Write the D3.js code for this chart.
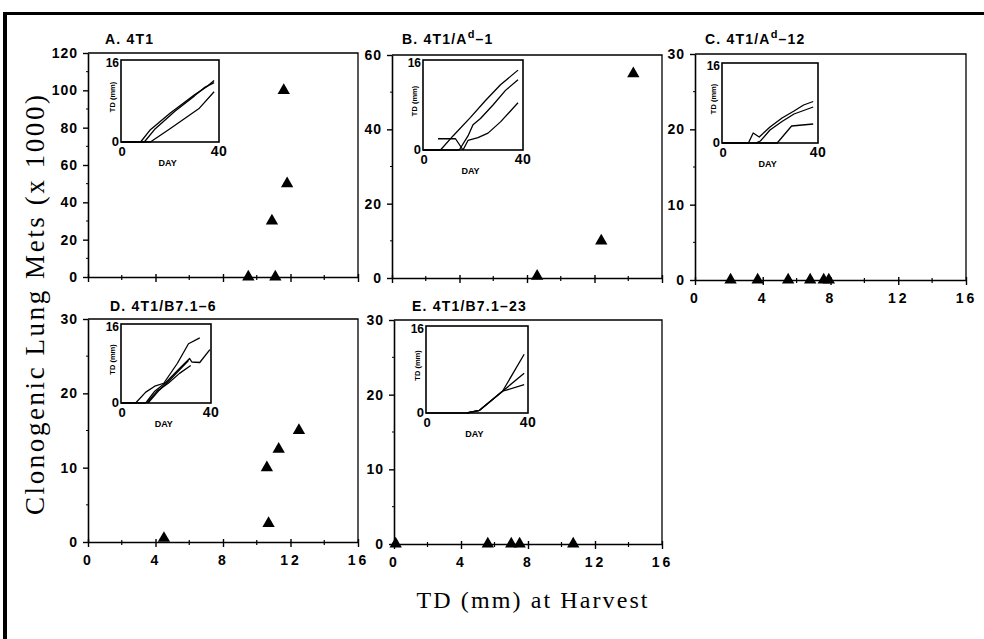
<!DOCTYPE html>
<html>
<head>
<meta charset="utf-8">
<script src="https://cdn.jsdelivr.net/npm/d3@7"></script>
<style>
  body { margin: 0; background: #fff; }
  svg { display: block; }
  .tick-lbl { font-family: "Liberation Sans", Arial, sans-serif; font-weight: bold; }
  .ttl { font-family: "Liberation Sans", Arial, sans-serif; font-size: 14px; font-weight: bold; letter-spacing: 1.2px; }
  .serif { font-family: "Liberation Serif", "Times New Roman", serif; }
</style>
</head>
<body>
<div id="chart"></div>
<script>
// ---- data ----
const panelTitles = ["A. 4T1", "B. 4T1/A^d–1", "C. 4T1/A^d–12", "D. 4T1/B7.1–6", "E. 4T1/B7.1–23"];
const yMaxes = [120, 60, 30, 30, 30];
const yMajorSteps = [20, 20, 10, 10, 10];
const xTickValues = [0, 4, 8, 12, 16];
const xMinorValues = [2, 6, 10, 14];
const showXLabels = [false, false, true, true, true];

// TD (mm) at harvest vs clonogenic lung mets (x1000)
const tdA = [9.5, 11.1, 10.9, 11.6, 11.8];
const metsA = [0, 0, 30, 100, 50];
const tdB = [8.6, 12.4, 14.3];
const metsB = [0.5, 10, 55];
const tdC = [2.1, 3.7, 5.5, 6.8, 7.6, 7.9];
const metsC = [0, 0, 0, 0, 0, 0];
const tdD = [4.5, 10.6, 10.7, 11.3, 12.5];
const metsD = [0.5, 10, 2.5, 12.5, 15];
const tdE = [0.1, 5.6, 7.0, 7.5, 10.7];
const metsE = [0, 0, 0, 0, 0];

// inset growth curves: [day, TD mm]
const growthA = [
  [[0, 0], [8, 0], [12, 2.4], [20, 5.6], [30, 9.2], [35, 10.8], [38, 12]],
  [[0, 0], [9.5, 0], [14, 2.6], [22, 6], [30, 9], [34, 10.6], [38, 11.6]],
  [[0, 0], [12, 0], [20, 2.6], [26, 4.6], [32, 6.6], [38, 9.8]]
];
const growthB = [
  [[0, 0], [7, 0], [12, 2.5], [19, 5.8], [25, 8.8], [31, 11.6], [38, 14.2]],
  [[6, 2], [13, 2], [16, 0]],
  [[0, 0], [14.5, 0], [18, 2.5], [20, 4.5], [23, 5.6], [28, 8], [33, 10.6], [38, 12.5]],
  [[16, 0], [18, 1.7], [22, 2.2], [26, 3], [31, 5], [38, 8.4]]
];
const growthC = [
  [[0, 0], [11, 0], [13, 2], [15.5, 1.2], [20, 3.2], [25, 5], [30, 6.4], [34, 7.6], [38, 8.3]],
  [[14, 0], [16, 0.4], [20, 2.6], [25, 4.3], [30, 5.8], [38, 7.2]],
  [[0, 0], [23, 0], [29, 3.4], [38, 3.8]]
];
const growthD = [
  [[0, 0], [6.5, 0], [11, 2.2], [15, 3.4], [19, 4], [25, 8], [30, 12], [35, 13.2]],
  [[0, 0], [11, 0], [15, 2.4], [20, 4.2], [26, 7], [30.5, 9], [31.5, 8.3], [35, 8.2], [39.5, 10.8]],
  [[11.5, 0], [16, 2.4], [21, 4], [26, 6], [31, 7.6]],
  [[12, 0], [17, 2.6], [22, 4.8], [27, 7.2], [30, 8.6]]
];
const growthE = [
  [[0, 0], [16, 0], [21, 0.5], [30, 4], [38.5, 10.8]],
  [[16, 0], [21, 0.5], [30, 4], [38.5, 7.3]],
  [[16, 0], [21, 0.5], [30, 4], [38.5, 5.2]]
];

const tdSets = [tdA, tdB, tdC, tdD, tdE];
const metsSets = [metsA, metsB, metsC, metsD, metsE];
const growthSets = [growthA, growthB, growthC, growthD, growthE];

// ---- layout (pixels) ----
const frames = [
  { l: 88, r: 358, t: 53, b: 277, inset: [121, 60, 219, 142], tx: 105, ty: 44 },
  { l: 392, r: 662, t: 55, b: 278, inset: [423, 60, 523, 150], tx: 402, ty: 44 },
  { l: 695, r: 966, t: 54, b: 280, inset: [722, 63, 818, 143], tx: 705, ty: 44 },
  { l: 88, r: 358, t: 319, b: 542, inset: [121, 324, 211, 403], tx: 110, ty: 311 },
  { l: 394, r: 662, t: 320, b: 544, inset: [426, 326, 528, 413], tx: 412, ty: 311 }
];

const W = 984, H = 639;
const svg = d3.select("#chart").append("svg")
  .attr("width", W)
  .attr("height", H);

// outer page frame (top + left heavy rule)
svg.append("line").attr("x1", 3).attr("x2", W).attr("y1", 13.5).attr("y2", 13.5)
  .attr("stroke", "#000").attr("stroke-width", 3);
svg.append("line").attr("x1", 5).attr("x2", 5).attr("y1", 12).attr("y2", H)
  .attr("stroke", "#000").attr("stroke-width", 4);

const triangle = d3.symbol().type(d3.symbolTriangle).size(66);

// small helper for bold sans labels
function label(sel, txt, x, y, size, anchor, spacing) {
  return sel.append("text")
    .attr("class", "tick-lbl")
    .attr("x", x).attr("y", y)
    .attr("text-anchor", anchor)
    .style("font-size", size + "px")
    .style("letter-spacing", (spacing || 0) + "px")
    .text(txt);
}

frames.forEach((f, i) => {
  const g = svg.append("g").attr("class", "panel");

  const x = d3.scaleLinear().domain([0, 16]).range([f.l, f.r]);
  const y = d3.scaleLinear().domain([0, yMaxes[i]]).range([f.b, f.t]);

  // box: top and right edges
  g.append("path")
    .attr("d", `M${f.l},${f.t}H${f.r}V${f.b}`)
    .attr("fill", "none")
    .attr("stroke", "#000")
    .attr("stroke-width", 1.3);

  // y axis
  const major = d3.range(0, yMaxes[i] + 0.001, yMajorSteps[i]);
  const minor = d3.range(yMajorSteps[i] / 2, yMaxes[i], yMajorSteps[i]);
  const yAxis = g.append("g")
    .attr("transform", `translate(${f.l},0)`)
    .call(d3.axisLeft(y).tickValues(major).tickSize(5).tickSizeOuter(0).tickPadding(5));
  yAxis.select(".domain").attr("stroke-width", 1.6);
  yAxis.selectAll(".tick line").attr("stroke-width", 1.4);
  yAxis.selectAll(".tick text").attr("class", "tick-lbl").attr("fill", "#000")
    .style("font-size", "14px").style("letter-spacing", "1px");
  g.selectAll(".ymin").data(minor).join("line")
    .attr("x1", f.l - 2).attr("x2", f.l + 1)
    .attr("y1", d => y(d)).attr("y2", d => y(d))
    .attr("stroke", "#000").attr("stroke-width", 1);

  // x axis
  const xAxis = g.append("g")
    .attr("transform", `translate(0,${f.b})`)
    .call(d3.axisBottom(x).tickValues(xTickValues).tickSize(5).tickSizeOuter(0).tickPadding(8));
  xAxis.select(".domain").attr("stroke-width", 1.6);
  xAxis.selectAll(".tick line").attr("y1", -3).attr("stroke-width", 1.4);
  xAxis.selectAll(".tick text").attr("class", "tick-lbl").attr("fill", "#000")
    .style("font-size", "14px").style("letter-spacing", "3px")
    .style("display", showXLabels[i] ? null : "none");
  g.selectAll(".xmin").data(xMinorValues).join("line")
    .attr("x1", d => x(d)).attr("x2", d => x(d))
    .attr("y1", f.b - 2).attr("y2", f.b + 3)
    .attr("stroke", "#000").attr("stroke-width", 1.2);

  // panel title
  const parts = panelTitles[i].split("^d");
  const title = g.append("text")
    .attr("class", "ttl")
    .attr("x", f.tx)
    .attr("y", f.ty);
  title.append("tspan").text(parts[0]);
  if (parts.length > 1) {
    title.append("tspan").attr("dy", -6).style("font-size", "11px").text("d");
    title.append("tspan").attr("dy", 6).text(parts[1]);
  }

  // data points
  const pts = tdSets[i].map((td, k) => ({ td: td, mets: metsSets[i][k] }));
  g.selectAll(".pt").data(pts).join("path")
    .attr("class", "pt")
    .attr("d", triangle)
    .attr("transform", d => `translate(${x(d.td)},${y(d.mets)})`)
    .attr("fill", "#000");

  // inset: tumour growth
  const [il, it, ir, ib] = f.inset;
  const ix = d3.scaleLinear().domain([0, 40]).range([il, ir]);
  const iy = d3.scaleLinear().domain([0, 16]).range([ib, it]);
  const inset = g.append("g").attr("class", "inset");

  inset.append("rect")
    .attr("x", il).attr("y", it)
    .attr("width", ir - il).attr("height", ib - it)
    .attr("fill", "#fff")
    .attr("stroke", "#000")
    .attr("stroke-width", 1.6);

  const line = d3.line().x(d => ix(d[0])).y(d => iy(d[1]));
  inset.selectAll(".growth").data(growthSets[i]).join("path")
    .attr("class", "growth")
    .attr("d", line)
    .attr("fill", "none")
    .attr("stroke", "#000")
    .attr("stroke-width", 1.3)
    .attr("stroke-linejoin", "round");

  // inset labels
  label(inset, "16", ix(0) - 2, iy(16) + 7, 12, "end");
  label(inset, "0", ix(0) - 2, iy(0) + 4, 13, "end");
  label(inset, "0", ix(0) + 1, ib + 14, 13, "middle");
  label(inset, "40", ix(40), ib + 14, 14, "middle", 0.5);
  label(inset, "DAY", ix(19), ib + 24, 9, "middle");
  label(inset, "TD (mm)", 0, 0, 7.5, "middle")
    .attr("transform", `translate(${il - 6},${(it + ib) / 2 - 4}) rotate(-90)`);
});

// shared axis titles
svg.append("text")
  .attr("class", "serif")
  .attr("transform", "translate(44,305) rotate(-90)")
  .attr("text-anchor", "middle")
  .style("font-size", "27px")
  .attr("textLength", 420)
  .attr("lengthAdjust", "spacing")
  .text("Clonogenic Lung Mets (x 1000)");

svg.append("text")
  .attr("class", "serif")
  .attr("x", 532)
  .attr("y", 608)
  .attr("text-anchor", "middle")
  .style("font-size", "24px")
  .attr("textLength", 231)
  .attr("lengthAdjust", "spacing")
  .text("TD (mm) at Harvest");
</script>
</body>
</html>
